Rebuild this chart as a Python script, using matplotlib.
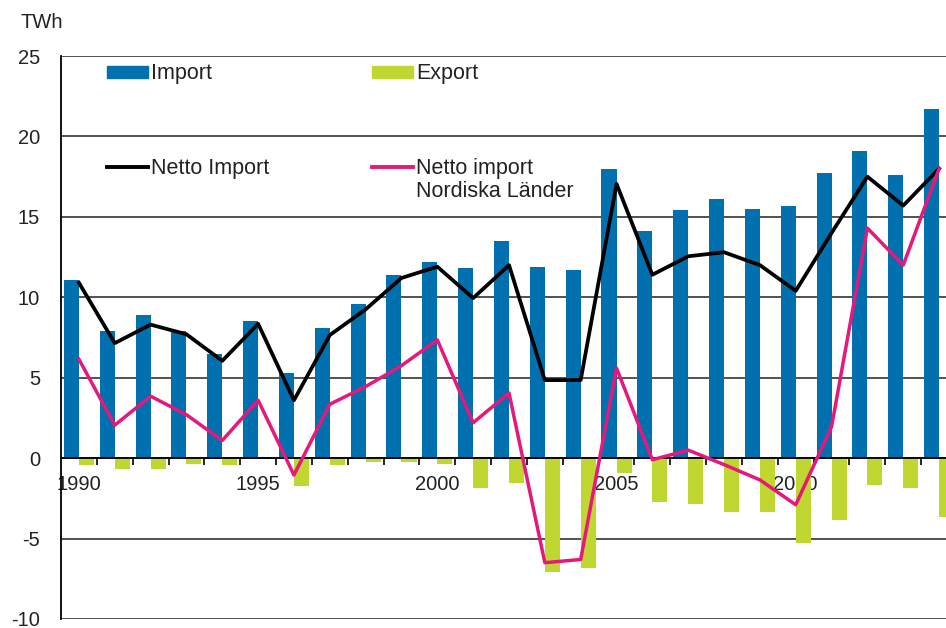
"""Import / export of electricity, TWh, 1990-2014."""

import matplotlib

matplotlib.use("Agg")
import matplotlib.pyplot as plt
import numpy as np
from matplotlib.lines import Line2D
from matplotlib.patches import Rectangle

plt.rcParams["font.family"] = ["Liberation Sans", "DejaVu Sans"]
plt.rcParams["axes.unicode_minus"] = False

years = list(range(1990, 2015))
imports = [11.1, 7.9, 8.9, 7.9, 6.5, 8.5, 5.3, 8.1, 9.6, 11.4, 12.2, 11.8, 13.5,
           11.9, 11.7, 18.0, 14.1, 15.4, 16.1, 15.5, 15.7, 17.7, 19.1, 17.6, 21.7]
exports = [-0.4, -0.7, -0.7, -0.35, -0.45, 0.0, -1.75, -0.45, -0.25, -0.25, -0.35,
           -1.85, -1.55, -7.05, -6.85, -0.9, -2.75, -2.85, -3.35, -3.35, -5.25,
           -3.85, -1.65, -1.85, -3.65]
net_import = [10.9, 7.15, 8.3, 7.7, 6.05, 8.35, 3.6, 7.65, 9.25, 11.2, 11.9, 9.95,
              12.0, 4.85, 4.85, 17.05, 11.4, 12.55, 12.8, 12.0, 10.4, 14.0, 17.5,
              15.7, 18.0]
net_nordic = [6.15, 2.05, 3.85, 2.7, 1.1, 3.6, -1.05, 3.35, 4.45, 5.75, 7.35, 2.2,
              4.05, -6.5, -6.3, 5.6, -0.1, 0.5, -0.4, -1.35, -2.9, 1.95, 14.3,
              12.0, 18.0]
year_labels = [1990, 1995, 2000, 2005, 2010]

BLUE = "#0071AE"
GREEN = "#BFD730"
PINK = "#E5187C"
TEXT = "#222222"

W, H = 946, 628
fig = plt.figure(figsize=(W / 100, H / 100), dpi=100)
# plot area runs past the right edge of the picture, as in the source
ax = fig.add_axes([61 / W, 1 - 619 / H, 896 / W, (619 - 56) / H])

x = np.arange(len(years))
bw = 0.42
ax.bar(x - bw / 2, imports, width=bw, color=BLUE, zorder=2)
ax.bar(x + bw / 2, exports, width=bw, color=GREEN, zorder=2)
ax.plot(x, net_import, color="black", lw=2.7, zorder=3)
ax.plot(x, net_nordic, color=PINK, lw=2.5, zorder=4)

ax.set_xlim(-0.5, len(years) - 0.5)
ax.set_ylim(-10, 25)
ax.set_yticks(np.arange(-10, 26, 5))
ax.yaxis.grid(True, color="#333333", lw=1.2, zorder=1)
ax.set_axisbelow(True)
ax.tick_params(axis="y", length=0, pad=15, labelsize=14.5, labelcolor=TEXT)

ax.spines["top"].set_visible(False)
ax.spines["right"].set_visible(False)
ax.spines["left"].set_color("black")
ax.spines["left"].set_linewidth(1.3)
ax.spines["bottom"].set_position(("data", 0))
ax.spines["bottom"].set_linewidth(1.3)

ax.set_xticks([years.index(y) for y in year_labels])
ax.set_xticklabels([str(y) for y in year_labels])
ax.set_xticks(np.arange(0.5, len(years) - 0.5, 1), minor=True)
ax.tick_params(axis="x", which="major", length=0, pad=12, labelsize=14.5,
               labelcolor=TEXT)
ax.tick_params(axis="x", which="minor", length=5, width=1.2, direction="out")

fig.text(20 / W, 1 - 22 / H, "TWh", fontsize=14.5, color=TEXT, va="center")

# legend, drawn by hand to keep the two-row layout of the original
def px(xp, yp):
    return xp / W, 1 - yp / H

for (x0, y0, kind, color, label) in [
    (107, 72, "patch", BLUE, "Import"),
    (372, 72, "patch", GREEN, "Export"),
    (107, 167, "line", "black", "Netto Import"),
    (372, 167, "line", PINK, "Netto import\nNordiska Länder"),
]:
    if kind == "patch":
        fx, fy = px(x0, y0 + 6)
        fig.add_artist(Rectangle((fx, fy), 41 / W, 12 / H, color=color,
                                 transform=fig.transFigure))
    else:
        xa, ya = px(x0, y0)
        xb, _ = px(x0 + 41, y0)
        fig.add_artist(Line2D([xa, xb], [ya, ya], color=color, lw=2.8,
                              transform=fig.transFigure))
    tx, ty = px(x0 + 44, y0 - 9)
    fig.text(tx, ty, label, fontsize=15.5, color=TEXT, va="top", ha="left",
             linespacing=1.1)

fig.savefig("out.png", dpi=100)
